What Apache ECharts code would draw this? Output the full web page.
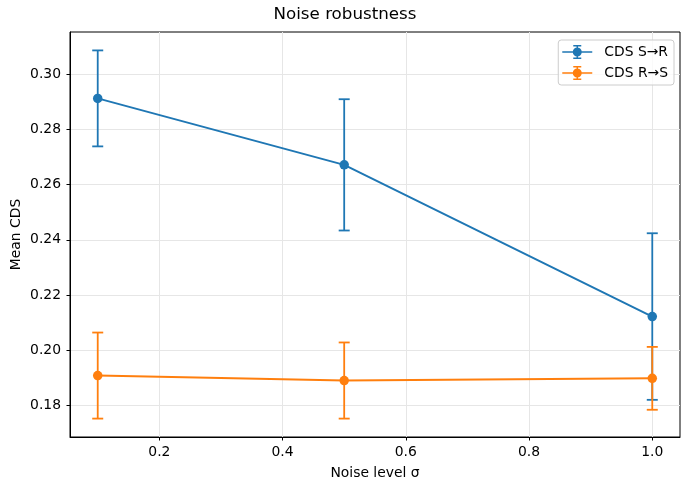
<!DOCTYPE html>
<html>
<head>
<meta charset="utf-8">
<script src="https://cdn.jsdelivr.net/npm/echarts@6/dist/echarts.min.js"></script>
<style>html,body{margin:0;padding:0;background:#fff}#c{width:690px;height:490px}</style>
</head>
<body>
<div id="c"></div>
<script>
const noiseLevels = [0.1, 0.5, 1.0];
const sToRMean = [0.2913, 0.2672, 0.2122];
const sToRErr = [0.0174, 0.0238, 0.0302];
const rToSMean = [0.1908, 0.1890, 0.1898];
const rToSErr = [0.0156, 0.0138, 0.0114];
const xTicks = [0.2, 0.4, 0.6, 0.8, 1.0];
const yTicks = [0.18, 0.20, 0.22, 0.24, 0.26, 0.28, 0.30];
const seriesNames = ['CDS S\u2192R', 'CDS R\u2192S'];
const colors = ['#1f77b4', '#ff7f0e'];

const FONT = 'DejaVu Sans';
const chart = echarts.init(document.getElementById('c'), null, {renderer: 'canvas'});

// axis limits with matplotlib-like 5% margins
const allLow = sToRMean.map((m, i) => m - sToRErr[i]).concat(rToSMean.map((m, i) => m - rToSErr[i]));
const allHigh = sToRMean.map((m, i) => m + sToRErr[i]).concat(rToSMean.map((m, i) => m + rToSErr[i]));
const yLo = Math.min(...allLow), yHi = Math.max(...allHigh);
const yMin = yLo - 0.05 * (yHi - yLo), yMax = yHi + 0.05 * (yHi - yLo);
const xLo = Math.min(...noiseLevels), xHi = Math.max(...noiseLevels);
const xMin = xLo - 0.05 * (xHi - xLo), xMax = xHi + 0.05 * (xHi - xLo);

function lineData(means) { return noiseLevels.map((x, i) => [x, means[i]]); }
function errData(means, errs) { return noiseLevels.map((x, i) => [x, means[i] - errs[i], means[i] + errs[i]]); }

function errRender(color) {
  return function (params, api) {
    const x = api.value(0), lo = api.value(1), hi = api.value(2);
    const pLo = api.coord([x, lo]);
    const pHi = api.coord([x, hi]);
    const cap = 5.5;
    const style = {stroke: color, lineWidth: 1.8, fill: null};
    return {
      type: 'group',
      children: [
        {type: 'line', shape: {x1: pLo[0], y1: pLo[1], x2: pHi[0], y2: pHi[1]}, style: style},
        {type: 'line', shape: {x1: pHi[0] - cap, y1: pHi[1], x2: pHi[0] + cap, y2: pHi[1]}, style: style},
        {type: 'line', shape: {x1: pLo[0] - cap, y1: pLo[1], x2: pLo[0] + cap, y2: pLo[1]}, style: style}
      ]
    };
  };
}

const legendIcon = 'path://M0 6.25H30V7.75H0Z M14.25 0H15.75V14H14.25Z M11 0H19V1.5H11Z M11 12.5H19V14H11Z M10.5 7A4.5 4.5 0 1 1 19.5 7A4.5 4.5 0 1 1 10.5 7Z';

const option = {
  animation: false,
  backgroundColor: '#ffffff',
  textStyle: {fontFamily: FONT},
  title: {
    text: 'Noise robustness',
    left: 'center',
    top: 6,
    padding: [0, 0, 0, 60],
    textStyle: {fontFamily: FONT, fontSize: 16.7, fontWeight: 'normal', color: '#000'}
  },
  grid: {left: 70, right: 10, top: 32, bottom: 53, containLabel: false, outerBoundsMode: 'none', show: true, borderColor: '#000', borderWidth: 1, backgroundColor: 'transparent'},
  legend: {
    orient: 'vertical',
    right: 16,
    top: 40,
    padding: [5, 6, 5, 4],
    itemGap: 7,
    itemWidth: 30,
    itemHeight: 14,
    backgroundColor: 'rgba(255,255,255,0.8)',
    borderColor: '#cccccc',
    borderWidth: 1,
    borderRadius: 3,
    data: [
      {name: seriesNames[0], icon: legendIcon},
      {name: seriesNames[1], icon: legendIcon}
    ],
    itemStyle: {borderWidth: 0},
    lineStyle: {width: 0},
    textStyle: {fontFamily: FONT, fontSize: 13.9, color: '#000', padding: [0, 0, 0, 7]}
  },
  xAxis: {
    type: 'value',
    min: xMin,
    max: xMax,
    name: 'Noise level \u03c3',
    nameLocation: 'middle',
    nameGap: 29,
    nameMoveOverlap: false,
    nameTextStyle: {fontFamily: FONT, fontSize: 13.9, color: '#000'},
    axisLine: {show: true, onZero: false, lineStyle: {color: '#000', width: 1}},
    axisTick: {show: true, inside: false, length: 3.5, customValues: xTicks, lineStyle: {color: '#000', width: 1}},
    axisLabel: {customValues: xTicks, margin: 8, fontFamily: FONT, fontSize: 13.9, color: '#000', formatter: v => v.toFixed(1)},
    splitLine: {show: true, lineStyle: {color: '#e6e6e6', width: 1}}
  },
  yAxis: {
    type: 'value',
    min: yMin,
    max: yMax,
    name: 'Mean CDS',
    nameLocation: 'middle',
    nameGap: 47,
    nameMoveOverlap: false,
    nameTextStyle: {fontFamily: FONT, fontSize: 13.9, color: '#000'},
    axisLine: {show: true, onZero: false, lineStyle: {color: '#000', width: 1}},
    axisTick: {show: true, inside: false, length: 3.5, customValues: yTicks, lineStyle: {color: '#000', width: 1}},
    axisLabel: {customValues: yTicks, margin: 9, fontFamily: FONT, fontSize: 13.9, color: '#000', formatter: v => v.toFixed(2)},
    splitLine: {show: true, lineStyle: {color: '#e6e6e6', width: 1}}
  },
  series: [
    {
      name: seriesNames[0] + ' err', type: 'custom', z: 2,
      renderItem: errRender(colors[0]),
      encode: {x: 0, y: [1, 2]},
      data: errData(sToRMean, sToRErr)
    },
    {
      name: seriesNames[1] + ' err', type: 'custom', z: 2,
      renderItem: errRender(colors[1]),
      encode: {x: 0, y: [1, 2]},
      data: errData(rToSMean, rToSErr)
    },
    {
      name: seriesNames[0], type: 'line', z: 3,
      data: lineData(sToRMean),
      symbol: 'circle', symbolSize: 9.5, showSymbol: true,
      color: colors[0],
      lineStyle: {color: colors[0], width: 2},
      itemStyle: {color: colors[0], borderWidth: 0}
    },
    {
      name: seriesNames[1], type: 'line', z: 3,
      data: lineData(rToSMean),
      symbol: 'circle', symbolSize: 9.5, showSymbol: true,
      color: colors[1],
      lineStyle: {color: colors[1], width: 2},
      itemStyle: {color: colors[1], borderWidth: 0}
    }
  ]
};
chart.setOption(option);
</script>
</body>
</html>
